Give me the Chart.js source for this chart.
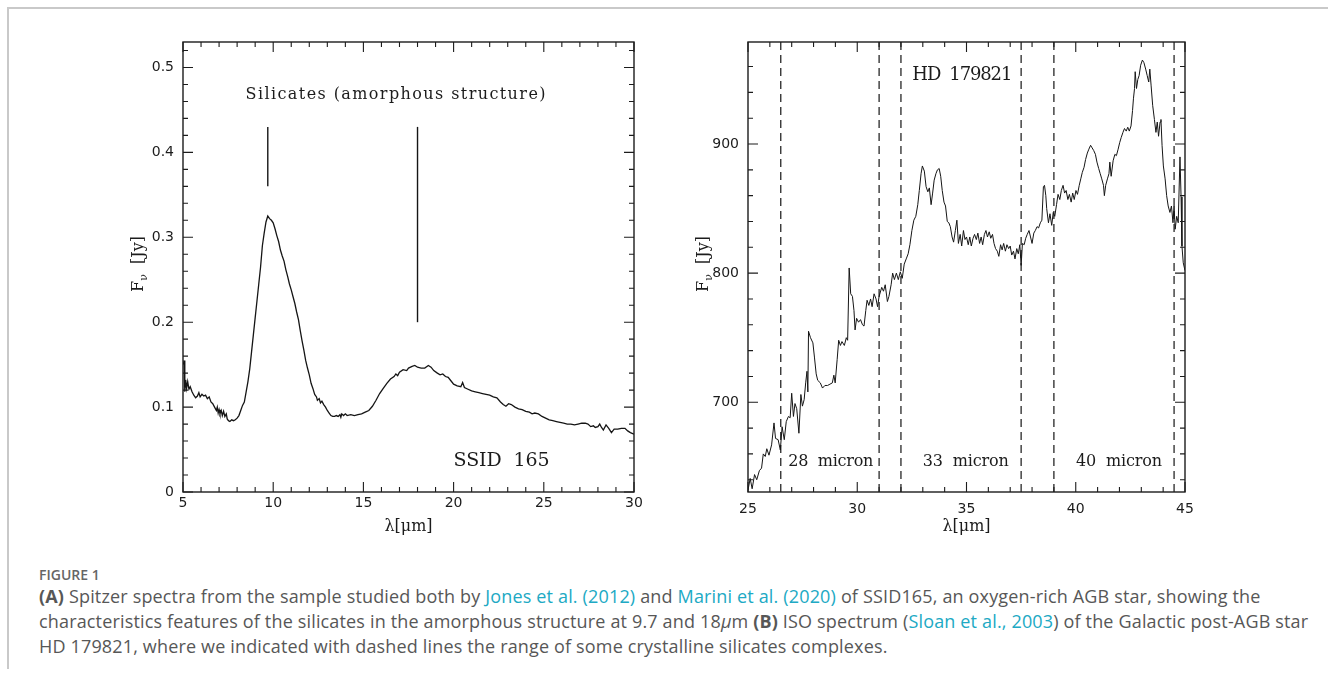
<!DOCTYPE html>
<html lang="en">
<head>
  <meta charset="UTF-8">
  <title>Figure 1 - silicate spectra</title>
  <script src="https://cdn.jsdelivr.net/npm/chart.js"></script>
  <style>
    body { margin: 0; background: #fff; width: 1328px; height: 675px; position: relative; overflow: hidden; }
    #frame { position: absolute; left: 7px; top: 7px; width: 1330px; height: 660px;
             border-left: 2px solid #c9c9c9; border-top: 2px solid #c9c9c9; }
    #ssid { position: absolute; left: 0; top: 0; }
    #hd { position: absolute; left: 664px; top: 0; }
    .cap { position: absolute; left: 39px; color: #575757; font-family: "Open Sans", sans-serif;
           font-size: 18px; letter-spacing: 0.16px; line-height: 26px; white-space: nowrap; }
    .fig { font-size: 14px; font-weight: 600; color: #666; letter-spacing: 0; line-height: 20px; }
    .lk { color: #20a9c4; }
    .cap b { font-weight: 700; }
  </style>
</head>
<body>
  <div id="frame"></div>
  <canvas id="ssid" width="664" height="545"></canvas>
  <canvas id="hd" width="560" height="545"></canvas>
  <div class="cap fig" style="top:565px">FIGURE 1</div>
  <div class="cap" style="top:583px"><b>(A)</b> Spitzer spectra from the sample studied both by <span class="lk">Jones et al. (2012)</span> and <span class="lk">Marini et al. (2020)</span> of SSID165, an oxygen-rich AGB star, showing the</div>
  <div class="cap" style="top:608px">characteristics features of the silicates in the amorphous structure at 9.7 and 18<i>μ</i>m <b>(B)</b> ISO spectrum (<span class="lk">Sloan et al., 2003</span>) of the Galactic post-AGB star</div>
  <div class="cap" style="top:633px">HD 179821, where we indicated with dashed lines the range of some crystalline silicates complexes.</div>

  <script>
    // (A) SSID 165, Spitzer spectrum
    const ssidWave = [5.02, 5.06, 5.10, 5.15, 5.20, 5.26, 5.33, 5.40, 5.50, 5.60, 5.70, 5.80, 5.88, 5.95,
      6.05, 6.15, 6.25, 6.35, 6.45, 6.55, 6.65, 6.75, 6.85, 6.90, 6.95, 7.00, 7.05, 7.12, 7.18, 7.25,
      7.32, 7.40, 7.45, 7.52, 7.60, 7.70, 7.80, 7.90, 8.00, 8.10, 8.20, 8.30, 8.40, 8.50, 8.60, 8.70,
      8.80, 8.90, 9.00, 9.10, 9.20, 9.30, 9.40, 9.50, 9.60, 9.70, 9.80, 9.90, 10.00, 10.10, 10.20,
      10.30, 10.40, 10.50, 10.60, 10.70, 10.80, 10.90, 11.00, 11.10, 11.20, 11.30, 11.40, 11.50,
      11.60, 11.70, 11.80, 11.90, 12.00, 12.10, 12.20, 12.30, 12.40, 12.45, 12.55, 12.62, 12.70,
      12.80, 12.90, 13.00, 13.10, 13.20, 13.30, 13.40, 13.50, 13.60, 13.70, 13.75, 13.80, 13.90,
      14.00, 14.10, 14.30, 14.50, 14.70, 14.90, 15.10, 15.30, 15.50, 15.70, 15.90, 16.10, 16.30,
      16.50, 16.70, 16.80, 16.90, 17.00, 17.20, 17.40, 17.50, 17.70, 17.85, 18.00, 18.20, 18.40,
      18.60, 18.75, 18.90, 19.10, 19.25, 19.40, 19.55, 19.70, 19.85, 20.00, 20.20, 20.40, 20.50,
      20.60, 20.80, 21.00, 21.20, 21.40, 21.60, 21.80, 22.00, 22.20, 22.40, 22.60, 22.75, 22.90,
      23.05, 23.20, 23.40, 23.60, 23.80, 24.00, 24.20, 24.35, 24.50, 24.70, 24.90, 25.10, 25.30,
      25.50, 25.70, 25.90, 26.10, 26.30, 26.50, 26.70, 26.90, 27.10, 27.30, 27.45, 27.60, 27.75,
      27.85, 28.00, 28.10, 28.20, 28.30, 28.45, 28.60, 28.75, 28.90, 29.10, 29.30, 29.50, 29.65,
      29.80, 30.00];
    const ssidFlux = [0.150, 0.155, 0.118, 0.132, 0.122, 0.130, 0.121, 0.124, 0.118, 0.114, 0.111, 0.113, 0.117, 0.112,
      0.115, 0.113, 0.114, 0.110, 0.112, 0.106, 0.104, 0.100, 0.096, 0.100, 0.093, 0.097, 0.092, 0.096, 0.090, 0.095,
      0.089, 0.092, 0.086, 0.084, 0.083, 0.085, 0.084, 0.085, 0.087, 0.090, 0.096, 0.102, 0.106, 0.118, 0.130, 0.145,
      0.165, 0.185, 0.205, 0.225, 0.245, 0.265, 0.290, 0.305, 0.318, 0.325, 0.322, 0.320, 0.317, 0.310, 0.302,
      0.295, 0.285, 0.278, 0.272, 0.262, 0.254, 0.245, 0.238, 0.230, 0.222, 0.212, 0.203, 0.190,
      0.178, 0.167, 0.155, 0.146, 0.138, 0.128, 0.122, 0.115, 0.112, 0.108, 0.110, 0.105, 0.107,
      0.103, 0.100, 0.096, 0.093, 0.090, 0.089, 0.089, 0.090, 0.089, 0.091, 0.088, 0.092, 0.090,
      0.092, 0.090, 0.091, 0.090, 0.091, 0.092, 0.094, 0.096, 0.101, 0.108, 0.116, 0.122, 0.128,
      0.133, 0.136, 0.139, 0.137, 0.141, 0.144, 0.143, 0.146, 0.148, 0.149, 0.147, 0.146, 0.146,
      0.149, 0.147, 0.143, 0.140, 0.138, 0.139, 0.136, 0.135, 0.131, 0.127, 0.125, 0.124, 0.129,
      0.123, 0.121, 0.119, 0.118, 0.117, 0.116, 0.115, 0.114, 0.112, 0.111, 0.106, 0.103, 0.101,
      0.104, 0.103, 0.100, 0.098, 0.097, 0.095, 0.094, 0.092, 0.093, 0.092, 0.089, 0.087, 0.085,
      0.084, 0.083, 0.082, 0.081, 0.080, 0.080, 0.079, 0.080, 0.081, 0.081, 0.080, 0.077, 0.078,
      0.076, 0.077, 0.080, 0.076, 0.073, 0.079, 0.075, 0.070, 0.074, 0.074, 0.075, 0.075, 0.072,
      0.070, 0.068];
    // feature markers at 9.7 and 18 micron
    const markerWave = [9.7, 18];
    const markerTop = [0.43, 0.43];
    const markerBottom = [0.36, 0.2];

    // (B) HD 179821, ISO spectrum
    const hdWave = [25.00, 25.04, 25.10, 25.19, 25.30, 25.40, 25.52, 25.62, 25.70, 25.79, 25.86, 25.96,
      26.08, 26.19, 26.26, 26.38, 26.48, 26.56, 26.66, 26.75, 26.85, 26.93, 27.00, 27.08, 27.15, 27.23,
      27.33, 27.42, 27.49, 27.57, 27.64, 27.70, 27.74, 27.77, 27.86, 27.97, 28.04, 28.12, 28.19, 28.31,
      28.41, 28.52, 28.64, 28.75, 28.86, 28.93, 28.99, 29.08, 29.15, 29.23, 29.30, 29.41, 29.50, 29.56,
      29.63, 29.70, 29.78, 29.85, 29.90, 29.97, 30.06, 30.15, 30.24, 30.31, 30.39, 30.45, 30.53, 30.61,
      30.68, 30.77, 30.86, 30.93, 31.00, 31.12, 31.20, 31.28, 31.38, 31.45, 31.55, 31.62, 31.70, 31.79,
      31.88, 31.97, 32.06, 32.15, 32.24, 32.33, 32.41, 32.50, 32.59, 32.68, 32.77, 32.84, 32.92, 32.98,
      33.07, 33.15, 33.23, 33.30, 33.38, 33.45, 33.52, 33.60, 33.67, 33.75, 33.82, 33.89, 33.97, 34.04,
      34.12, 34.19, 34.26, 34.34, 34.41, 34.49, 34.56, 34.63, 34.71, 34.78, 34.86, 34.93, 35.00, 35.08,
      35.15, 35.22, 35.30, 35.37, 35.45, 35.52, 35.60, 35.67, 35.74, 35.82, 35.89, 35.96, 36.04, 36.11,
      36.19, 36.26, 36.33, 36.41, 36.48, 36.56, 36.63, 36.70, 36.78, 36.85, 36.93, 37.00, 37.07, 37.15,
      37.22, 37.30, 37.37, 37.44, 37.50, 37.56, 37.64, 37.71, 37.78, 37.86, 37.93, 38.00, 38.08, 38.15,
      38.23, 38.30, 38.38, 38.45, 38.52, 38.57, 38.63, 38.67, 38.75, 38.82, 38.90, 38.97, 39.04, 39.12,
      39.19, 39.27, 39.34, 39.42, 39.49, 39.56, 39.64, 39.71, 39.79, 39.86, 39.93, 40.01, 40.08, 40.16,
      40.23, 40.30, 40.38, 40.45, 40.53, 40.60, 40.68, 40.75, 40.82, 40.90, 40.97, 41.05, 41.12, 41.19,
      41.27, 41.31, 41.37, 41.45, 41.52, 41.56, 41.62, 41.71, 41.79, 41.86, 41.94, 42.01, 42.08, 42.16,
      42.23, 42.31, 42.38, 42.45, 42.53, 42.60, 42.64, 42.69, 42.72, 42.78, 42.84, 42.90, 42.97, 43.05,
      43.12, 43.20, 43.27, 43.34, 43.39, 43.45, 43.52, 43.60, 43.67, 43.73, 43.79, 43.86, 43.90, 43.95,
      44.01, 44.09, 44.16, 44.23, 44.31, 44.38, 44.45, 44.50, 44.55, 44.62, 44.69, 44.77, 44.82, 44.86,
      44.92, 45.00];
    const hdFlux = [632, 632, 641, 633, 644, 640, 647, 649, 660, 658, 664, 659,
      667, 684, 672, 671, 663, 681, 671, 685, 689, 688, 707, 689, 699, 695,
      676, 706, 697, 702, 715, 724, 708, 755, 750, 746, 735, 722, 717, 715,
      711, 713, 713, 714, 715, 721, 715, 733, 748, 744, 747, 744, 750, 748,
      804, 784, 782, 771, 756, 765, 762, 764, 760, 759, 771, 779, 775, 780,
      774, 784, 780, 774, 782, 789, 786, 791, 778, 782, 791, 800, 795, 800,
      795, 801, 796, 807, 811, 815, 822, 833, 841, 844, 853, 864, 877, 883,
      879, 867, 863, 866, 853, 862, 872, 877, 880, 881, 875, 864, 855, 852,
      840, 839, 836, 828, 824, 833, 841, 823, 830, 821, 833, 826, 828, 822,
      828, 821, 827, 830, 826, 831, 823, 828, 822, 830, 833, 828, 832, 827,
      830, 823, 819, 817, 813, 822, 818, 823, 817, 822, 819, 821, 814, 817,
      811, 819, 815, 822, 806, 823, 822, 827, 830, 833, 828, 823, 831, 833,
      836, 835, 839, 841, 867, 868, 860, 850, 839, 846, 837, 847, 844, 853,
      861, 857, 864, 868, 862, 864, 857, 861, 855, 862, 857, 864, 861, 868,
      873, 878, 882, 888, 893, 896, 899, 897, 895, 892, 886, 881, 877, 873,
      868, 860, 868, 873, 877, 886, 875, 887, 892, 891, 896, 901, 905, 909,
      912, 910, 913, 910, 914, 926, 935, 943, 956, 943, 950, 953, 961, 965,
      963, 958, 953, 948, 958, 945, 930, 919, 909, 917, 906, 917, 919, 899,
      883, 873, 860, 852, 847, 852, 839, 852, 834, 844, 839, 890, 859, 821,
      808, 802];
    // crystalline complex ranges (dashed lines)
    const dashWave = [26.5, 31, 32, 37.5, 39, 44.5];

    const serif = '"DejaVu Serif", serif';

    function drawFitted(ctx, text, cx, cy, size, w) {
      ctx.font = size + 'px ' + serif;
      ctx.letterSpacing = '0px';
      const m = ctx.measureText(text).width;
      ctx.letterSpacing = ((w - m) / Math.max(text.length - 1, 1)) + 'px';
      ctx.textAlign = 'left';
      ctx.textBaseline = 'middle';
      ctx.fillText(text, cx - w / 2, cy);
      ctx.letterSpacing = '0px';
    }

    function isMajor(v, step) {
      const r = v / step;
      return Math.abs(r - Math.round(r)) < 1e-6;
    }

    // box, inward ticks on four sides, labels
    const frameTicks = {
      id: 'frameTicks',
      afterDraw(chart, args, o) {
        const {ctx, chartArea: a} = chart;
        const sx = chart.scales.x, sy = chart.scales.y;
        ctx.save();
        ctx.strokeStyle = '#1c1c1c';
        ctx.lineWidth = 1.4;
        ctx.strokeRect(a.left, a.top, a.right - a.left, a.bottom - a.top);
        ctx.lineWidth = 1.1;
        ctx.beginPath();
        for (let i = Math.ceil(sx.min / o.xMinor - 1e-6); i * o.xMinor <= sx.max + 1e-9; i++) {
          const v = i * o.xMinor;
          const len = isMajor(v, o.xMajor) ? 10 : 5;
          const px = sx.getPixelForValue(v);
          ctx.moveTo(px, a.bottom); ctx.lineTo(px, a.bottom - len);
          ctx.moveTo(px, a.top); ctx.lineTo(px, a.top + len);
        }
        for (let i = Math.ceil(sy.min / o.yMinor - 1e-6); i * o.yMinor <= sy.max + 1e-9; i++) {
          const v = i * o.yMinor;
          const len = isMajor(v, o.yMajor) ? 10 : 5;
          const py = sy.getPixelForValue(v);
          ctx.moveTo(a.left, py); ctx.lineTo(a.left + len, py);
          ctx.moveTo(a.right, py); ctx.lineTo(a.right - len, py);
        }
        ctx.stroke();

        ctx.fillStyle = '#1c1c1c';
        o.notes.forEach(n => {
          drawFitted(ctx, n.text, sx.getPixelForValue(n.x), sy.getPixelForValue(n.y), n.size, n.w);
        });

        // x title
        ctx.font = '16px ' + serif;
        ctx.textAlign = 'center';
        ctx.textBaseline = 'middle';
        ctx.fillText('λ[μm]', (a.left + a.right) / 2, a.bottom + 35);

        // y title, F with nu subscript
        ctx.translate(a.left - 46, (a.top + a.bottom) / 2 - 3);
        ctx.rotate(-Math.PI / 2);
        const big = '16px ' + serif, small = '11px ' + serif;
        ctx.textAlign = 'left';
        ctx.textBaseline = 'alphabetic';
        ctx.font = big;
        const wF = ctx.measureText('F').width;
        const wJ = ctx.measureText('  [Jy]').width;
        ctx.font = small;
        const wN = ctx.measureText('ν').width;
        const x0 = -(wF + wN + wJ) / 2;
        ctx.font = big; ctx.fillText('F', x0, 6);
        ctx.font = small; ctx.fillText('ν', x0 + wF, 10);
        ctx.font = big; ctx.fillText('  [Jy]', x0 + wF + wN, 6);
        ctx.restore();
      }
    };

    const tickFont = {family: 'DejaVu Sans', size: 14};

    function axes(xr, yr, xStep, yStep, xPad, yWidth, fmt) {
      return {
        x: {
          type: 'linear', min: xr[0], max: xr[1],
          grid: {display: false, drawTicks: false}, border: {display: false},
          ticks: {stepSize: xStep, font: tickFont, color: '#1c1c1c', padding: xPad, maxRotation: 0,
                  includeBounds: false},
          afterFit: s => { s.height = 53; }
        },
        y: {
          type: 'linear', min: yr[0], max: yr[1],
          grid: {display: false, drawTicks: false}, border: {display: false},
          ticks: {stepSize: yStep, font: tickFont, color: '#1c1c1c', padding: 9, includeBounds: false,
                  callback: fmt},
          afterFit: s => { s.width = yWidth; }
        }
      };
    }

    const lineStyle = {borderColor: '#151515', pointRadius: 0, tension: 0, fill: false};

    new Chart(document.getElementById('ssid'), {
      type: 'line',
      data: {
        datasets: [
          Object.assign({data: ssidWave.map((w, i) => ({x: w, y: ssidFlux[i]})), borderWidth: 1.3}, lineStyle),
          ...markerWave.map((w, i) => Object.assign({
            data: [{x: w, y: markerBottom[i]}, {x: w, y: markerTop[i]}], borderWidth: 1.4}, lineStyle))
        ]
      },
      options: {
        responsive: false, animation: false,
        layout: {padding: {top: 42, right: 30, left: 0, bottom: 0}},
        scales: axes([5, 30], [0, 0.53], 5, 0.1, 3, 183, v => v === 0 ? '0' : v.toFixed(1)),
        plugins: {
          legend: {display: false}, tooltip: {enabled: false},
          frameTicks: {
            xMinor: 1, xMajor: 5, yMinor: 0.02, yMajor: 0.1,
            notes: [
              {text: 'Silicates (amorphous structure)', x: 16.78, y: 0.4674, size: 16, w: 300},
              {text: 'SSID  165', x: 22.66, y: 0.037, size: 19, w: 96}
            ]
          }
        }
      },
      plugins: [frameTicks]
    });

    new Chart(document.getElementById('hd'), {
      type: 'line',
      data: {
        datasets: [
          Object.assign({data: hdWave.map((w, i) => ({x: w, y: hdFlux[i]})), borderWidth: 1}, lineStyle),
          ...dashWave.map(w => Object.assign({
            data: [{x: w, y: 630.5}, {x: w, y: 979}], borderWidth: 1.2, borderDash: [8, 5]}, lineStyle))
        ]
      },
      options: {
        responsive: false, animation: false,
        layout: {padding: {top: 42, right: 39, left: 0, bottom: 0}},
        scales: axes([25, 45], [630.5, 979], 5, 100, 9, 84, v => String(v)),
        plugins: {
          legend: {display: false}, tooltip: {enabled: false},
          frameTicks: {
            xMinor: 1, xMajor: 5, yMinor: 20, yMajor: 100,
            notes: [
              {text: 'HD  179821', x: 34.81, y: 953, size: 18, w: 100},
              {text: '28  micron', x: 28.79, y: 654, size: 16, w: 85},
              {text: '33  micron', x: 34.97, y: 654, size: 16, w: 86},
              {text: '40  micron', x: 41.98, y: 654, size: 16, w: 86}
            ]
          }
        }
      },
      plugins: [frameTicks]
    });
  </script>
</body>
</html>
